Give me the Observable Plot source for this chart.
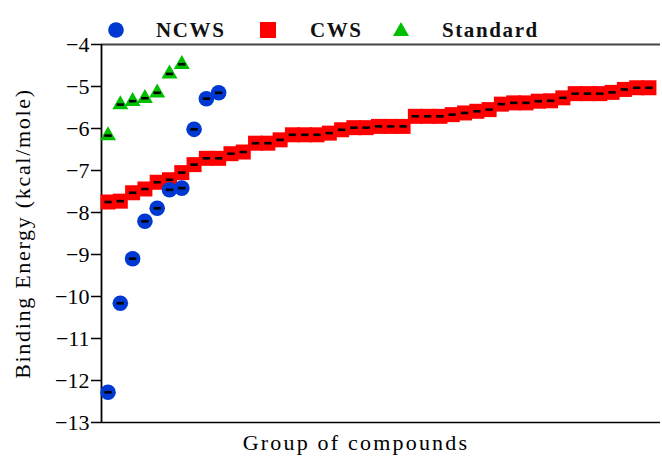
<!DOCTYPE html>
<html>
<head>
<meta charset="utf-8">
<script src="https://cdn.jsdelivr.net/npm/d3@7"></script>
<script src="https://cdn.jsdelivr.net/npm/@observablehq/plot@0.6"></script>
<style>
  body { margin: 0; background: #fff; }
  #chart { position: relative; width: 662px; height: 457px; font-family: "Liberation Serif", "Times New Roman", serif; }
  #chart svg text { font-family: "Liberation Serif", "Times New Roman", serif !important; }
  #legend { position: absolute; left: 0; top: 0; width: 662px; height: 44px; }
  #legend .sym { position: absolute; top: 21px; width: 18px; height: 18px; }
  #legend .lab { position: absolute; top: 19px; line-height: 22px; font-size: 21px; font-weight: bold; letter-spacing: 1.6px; color: #111; white-space: nowrap; }
</style>
</head>
<body>
<div id="chart"><div id="legend"></div></div>
<script>
// Docking binding energies, one value per compound, sorted within each group
const ncws = [-12.28, -10.16, -9.10, -8.21, -7.90, -7.46, -7.42, -6.02, -5.29, -5.15];
const cws = [-7.75, -7.73, -7.53, -7.44, -7.28, -7.22, -7.05, -6.86, -6.71, -6.71,
             -6.60, -6.56, -6.35, -6.35, -6.27, -6.15, -6.15, -6.15, -6.11, -6.03,
             -5.98, -5.98, -5.95, -5.95, -5.95, -5.71, -5.71, -5.71, -5.67, -5.63,
             -5.59, -5.55, -5.42, -5.39, -5.39, -5.35, -5.34, -5.27, -5.17, -5.17,
             -5.17, -5.14, -5.07, -5.03, -5.03];
const standard = [-6.17, -5.43, -5.35, -5.28, -5.15, -4.70, -4.47];

const seriesNames = ["NCWS", "CWS", "Standard"];
const seriesColors = ["#0038d2", "#ff0000", "#00bf00"];
const yTicks = [-4, -5, -6, -7, -8, -9, -10, -11, -12, -13];
const yTitle = "Binding Energy (kcal/mole)";
const xTitle = "Group of compounds";

const serif = "'Liberation Serif', 'Times New Roman', serif";
const rows = (values) => values.map((v, i) => ({i, v}));

// Marker shapes drawn at fixed pixel sizes
const squareSym = {draw(c) { c.rect(-7.5, -7.5, 15, 15); }};
const triangleSym = {draw(c) { c.moveTo(0, -9.3); c.lineTo(8, 4.7); c.lineTo(-8, 4.7); c.closePath(); }};
const dashSym = {draw(c) { c.rect(-3.7, -1.3, 7.4, 2.6); }};

const xDomain = [-0.53, 44.94];
const yDomain = [-13, -4];

const markers = (data, symbol, fill, r) => [
  Plot.dot(data, {x: "i", y: "v", symbol, r, fill, stroke: "none"}),
  Plot.dot(data, {x: "i", y: "v", symbol: dashSym, r: 3, fill: "#000", stroke: "none"})
];

const plot = Plot.plot({
  width: 662,
  height: 457,
  marginTop: 44,
  marginBottom: 35,
  marginLeft: 101,
  marginRight: 2,
  style: {fontFamily: serif, fontSize: "21px", color: "#000", background: "transparent", overflow: "visible"},
  x: {domain: xDomain, axis: null},
  y: {domain: yDomain, axis: null},
  marks: [
    Plot.ruleY([yDomain[1]], {stroke: "#444", strokeWidth: 2.2}),
    Plot.ruleY([yDomain[0]], {stroke: "#000", strokeWidth: 1.6}),
    Plot.ruleX([xDomain[0]], {stroke: "#000", strokeWidth: 1.8}),
    Plot.axisY({ticks: yTicks, tickSize: 10, tickPadding: 2, fontSize: 22, fontFamily: serif, strokeWidth: 1.5, label: null}),
    ...markers(rows(cws), squareSym, seriesColors[1], 8),
    ...markers(rows(ncws), "circle", seriesColors[0], 7.8),
    ...markers(rows(standard), triangleSym, seriesColors[2], 8),
    Plot.text([yTitle], {frameAnchor: "left", textAnchor: "middle", lineAnchor: "middle", rotate: -90, dx: -79, fontSize: 22, fontFamily: serif}),
    Plot.text([xTitle], {frameAnchor: "bottom", textAnchor: "middle", lineAnchor: "middle", dy: 20, dx: -25, fontSize: 22, fontFamily: serif})
  ]
});

// Slightly spaced-out lettering for the two axis titles
d3.select(plot).selectAll("text").each(function () {
  const t = this.textContent;
  if (t === yTitle) this.setAttribute("letter-spacing", "1.7");
  if (t === xTitle) this.setAttribute("letter-spacing", "2.2");
});
document.getElementById("chart").appendChild(plot);

// Legend row above the plot frame
const legend = document.getElementById("legend");
const symLeft = [107, 259, 392];
const labLeft = [156, 310, 442];
const shapes = [
  '<circle cx="9" cy="9" r="7.8"/>',
  '<rect x="1" y="1" width="16" height="16"/>',
  '<path d="M9,1 L17,15 L1,15 Z"/>'
];
seriesNames.forEach((name, k) => {
  const s = document.createElement("div");
  s.className = "sym";
  s.style.left = symLeft[k] + "px";
  s.innerHTML = `<svg width="18" height="18" fill="${seriesColors[k]}">${shapes[k]}</svg>`;
  legend.appendChild(s);
  const t = document.createElement("div");
  t.className = "lab";
  t.style.left = labLeft[k] + "px";
  t.textContent = name;
  legend.appendChild(t);
});
</script>
</body>
</html>
